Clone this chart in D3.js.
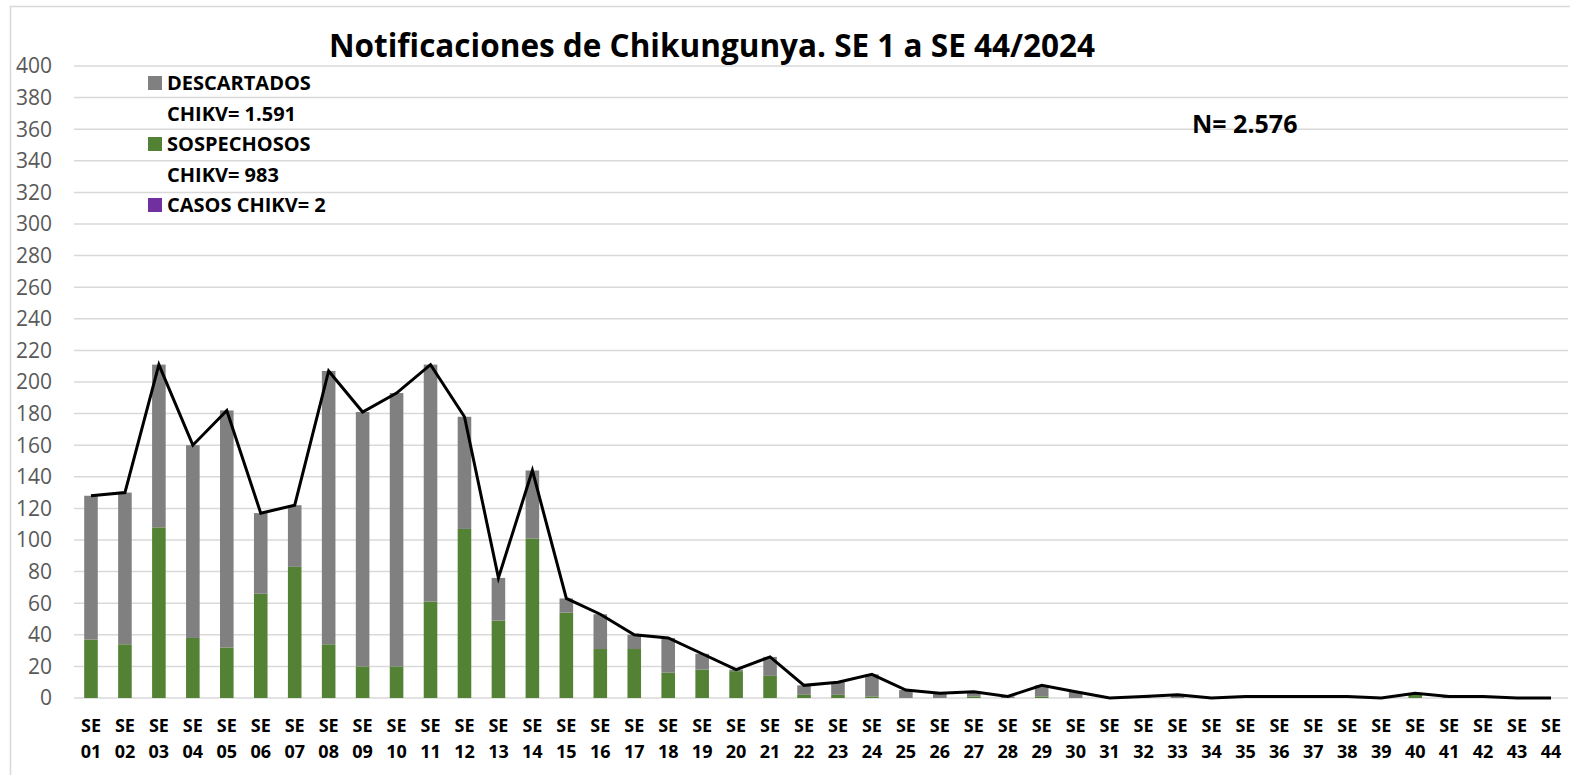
<!DOCTYPE html>
<html>
<head>
<meta charset="utf-8">
<script src="https://cdn.jsdelivr.net/npm/d3@7"></script>
<style>
  body { margin: 0; background: #fff; }
  svg { display: block; font-family: "Open Sans", sans-serif; }
</style>
</head>
<body>
<div id="chart"></div>
<script>
// semanas epidemiologicas
const weeks = d3.range(1, 45).map(d => String(d).padStart(2, '0'));
// sospechosos (verde)
const sospechosos = [37,34,108,38,32,66,83,34,20,20,61,107,49,101,54,31,31,16,18,17,14,2,2,1,0,0,1,0,1,0,0,0,0,0,0,0,0,0,0,2,0,0,0,0];
// total notificaciones por semana (linea)
const totales = [128,130,211,160,182,117,122,207,181,193,211,178,76,144,63,53,40,38,28,18,26,8,10,15,5,3,4,1,8,4,0,1,2,0,1,1,1,1,0,3,1,1,0,0];
// casos confirmados (morado)
const casos = weeks.map(() => 0);
// descartados = total - sospechosos - casos
const descartados = totales.map((t, i) => t - sospechosos[i] - casos[i]);
const yTicks = d3.range(0, 401, 20);
const legendItems = [
  {label: 'DESCARTADOS', color: '#808080'},
  {label: 'CHIKV= 1.591', color: null},
  {label: 'SOSPECHOSOS', color: '#548235'},
  {label: 'CHIKV= 983', color: null},
  {label: 'CASOS CHIKV= 2', color: '#7030a0'}
];

const width = 1570, height = 775;
const margin = {top: 66, right: 2, bottom: 77, left: 74};

const svg = d3.select('#chart').append('svg')
  .attr('width', width).attr('height', height);

// marco del grafico
svg.append('path')
  .attr('d', `M10.5,${height} V6.5 H${width}`)
  .attr('fill', 'none').attr('stroke', '#d9d9d9').attr('stroke-width', 1.5);

const chart = svg.append('g')
  .attr('transform', `translate(${margin.left},${margin.top})`);
const w = width - margin.left - margin.right;
const h = height - margin.top - margin.bottom;

const x = d3.scaleBand().domain(weeks).range([0, w]).paddingInner(0.6).paddingOuter(0.3);
const y = d3.scaleLinear().domain([0, 400]).range([h, 0]);

// grid
chart.append('g').selectAll('line').data(yTicks).join('line')
  .attr('x1', 0).attr('x2', w)
  .attr('y1', d => y(d)).attr('y2', d => y(d))
  .attr('stroke', '#d9d9d9').attr('stroke-width', 1.5);

// y labels
chart.append('g').selectAll('text').data(yTicks).join('text')
  .attr('x', -22).attr('y', d => y(d)).attr('dy', '0.35em')
  .attr('text-anchor', 'end').attr('fill', '#595959')
  .attr('font-size', 21)
  .text(d => d);

// stacked bars
const stackData = weeks.map((wk, i) => ({wk, sosp: sospechosos[i], casos: casos[i], desc: descartados[i]}));
const series = d3.stack().keys(['sosp', 'casos', 'desc'])(stackData);
const colors = {sosp: '#548235', casos: '#7030a0', desc: '#808080'};

chart.append('g').selectAll('g').data(series).join('g')
  .attr('fill', s => colors[s.key])
  .selectAll('rect').data(s => s).join('rect')
  .attr('x', d => x(d.data.wk))
  .attr('width', x.bandwidth())
  .attr('y', d => y(d[1]))
  .attr('height', d => y(d[0]) - y(d[1]));

// total line
const line = d3.line()
  .x((d, i) => x(weeks[i]) + x.bandwidth() / 2)
  .y(d => y(d));
chart.append('path').datum(totales)
  .attr('fill', 'none').attr('stroke', '#000').attr('stroke-width', 3)
  .attr('d', line);

// x labels
const xl = chart.append('g').selectAll('text').data(weeks).join('text')
  .attr('y', h + 34)
  .attr('text-anchor', 'middle').attr('font-size', 18).attr('font-weight', 'bold')
  .attr('fill', '#000');
xl.append('tspan').attr('x', d => x(d) + x.bandwidth() / 2).text('SE');
xl.append('tspan').attr('x', d => x(d) + x.bandwidth() / 2).attr('dy', 26).text(d => d);

// title
svg.append('text')
  .attr('x', 712).attr('y', 57)
  .attr('text-anchor', 'middle').attr('font-size', 31.5).attr('font-weight', 'bold')
  .text('Notificaciones de Chikungunya. SE 1 a SE 44/2024');

// legend
const lg = svg.append('g').attr('transform', 'translate(148,83)');
const row = lg.selectAll('g').data(legendItems).join('g')
  .attr('transform', (d, i) => `translate(0,${i * 30.5})`);
row.filter(d => d.color).append('rect')
  .attr('x', 0).attr('y', -7).attr('width', 14).attr('height', 14)
  .attr('fill', d => d.color);
row.append('text')
  .attr('x', 19).attr('dy', '0.35em')
  .attr('font-size', 20).attr('font-weight', 'bold')
  .text(d => d.label);

// total N
svg.append('text')
  .attr('x', 1192).attr('y', 124).attr('dy', '0.35em')
  .attr('font-size', 25).attr('font-weight', 'bold')
  .text('N= 2.576');
</script>
</body>
</html>
